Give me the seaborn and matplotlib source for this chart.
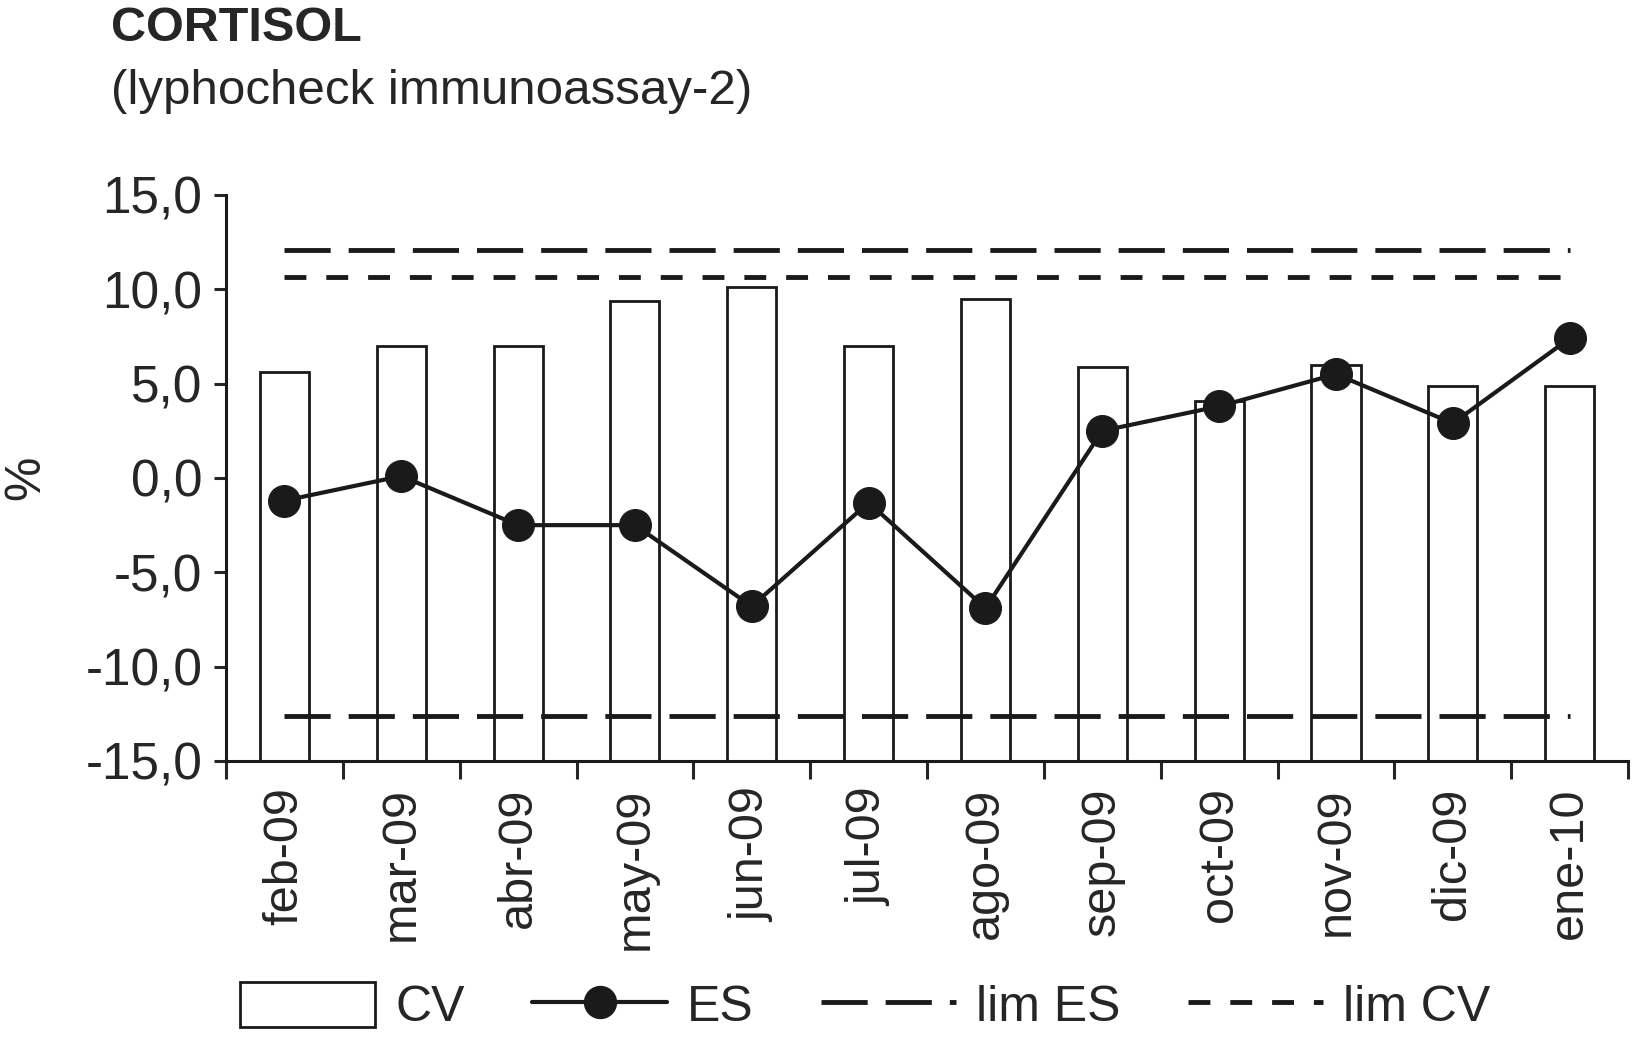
import numpy as np
import pandas as pd
import matplotlib
matplotlib.use("Agg")
import matplotlib.pyplot as plt
import seaborn as sns
from matplotlib.lines import Line2D
from matplotlib.patches import Patch
from matplotlib.ticker import FuncFormatter, FixedLocator

# data
months = ['feb-09', 'mar-09', 'abr-09', 'may-09', 'jun-09', 'jul-09',
          'ago-09', 'sep-09', 'oct-09', 'nov-09', 'dic-09', 'ene-10']
cv = [5.6, 7.0, 7.0, 9.4, 10.1, 7.0, 9.5, 5.9, 4.1, 6.0, 4.9, 4.9]
es = [-1.2, 0.1, -2.5, -2.5, -6.8, -1.3, -6.9, 2.5, 3.8, 5.5, 2.9, 7.4]
lim_es_hi = 12.1
lim_es_lo = -12.6
lim_cv = 10.65
y_min, y_max = -15, 15

sns.set_style("ticks")
plt.rcParams['font.family'] = ['Liberation Sans', 'DejaVu Sans']

df = pd.DataFrame({'month': months, 'cv': cv, 'es': es})
df['pos'] = np.arange(len(df))
# bars are drawn up from the bottom of the axis
df['cv_h'] = df['cv'] - y_min

fig = plt.figure(figsize=(16.33, 10.41), dpi=100)
ax = fig.add_axes([0.1384, 0.269, 0.8586, 0.5437])

sns.barplot(data=df, x='pos', y='cv_h', bottom=y_min, width=0.42,
            color='white', edgecolor='#1a1a1a', linewidth=2.0,
            native_scale=True, ax=ax, zorder=2)

n = len(df)
ax.plot(df['pos'], np.full(n, lim_es_hi), color='#1a1a1a', lw=3.5,
        dashes=(9.5, 3.7), zorder=3)
ax.plot(df['pos'], np.full(n, lim_es_lo), color='#1a1a1a', lw=3.5,
        dashes=(9.5, 3.7), zorder=3)
ax.plot(df['pos'], np.full(n, lim_cv), color='#1a1a1a', lw=3.5,
        dashes=(4.5, 4.1), zorder=3)

sns.lineplot(data=df, x='pos', y='es', color='#1a1a1a', lw=3.0,
             marker='o', markersize=23, markeredgecolor='#1a1a1a',
             ax=ax, zorder=4)

ax.set_xlim(-0.5, n - 0.5)
ax.set_ylim(y_min, y_max)
ax.set_yticks(np.arange(-15, 16, 5))
ax.yaxis.set_major_formatter(FuncFormatter(lambda v, p: f"{v:.1f}".replace('.', ',')))
ax.set_xticks(df['pos'])
ax.set_xticklabels(months, rotation=90)
ax.xaxis.set_minor_locator(FixedLocator(np.arange(-0.5, n, 1.0)))
ax.tick_params(axis='x', which='major', length=0, pad=19, labelsize=35)
ax.tick_params(axis='x', which='minor', length=13, width=2.2, direction='out')
ax.tick_params(axis='y', length=9, width=2.2, pad=8, labelsize=37)
ax.set_xlabel('')
ax.set_ylabel('%', fontsize=36, labelpad=26)

sns.despine(ax=ax, top=True, right=True)
for s in ['left', 'bottom']:
    ax.spines[s].set_linewidth(2.2)
    ax.spines[s].set_color('#1a1a1a')

fig.text(0.068, 0.973, 'CORTISOL', fontsize=35, fontweight='bold', va='center')
fig.text(0.068, 0.912, '(lyphocheck immunoassay-2)', fontsize=35.5, va='center')

handles = [
    Patch(facecolor='white', edgecolor='#1a1a1a', linewidth=2.0),
    Line2D([0], [0], color='#1a1a1a', lw=3.0, marker='o', markersize=23),
    Line2D([0], [0], color='#1a1a1a', lw=3.5, dashes=(9.5, 3.7)),
    Line2D([0], [0], color='#1a1a1a', lw=3.5, dashes=(4.5, 4.1)),
]
fig.legend(handles, ['CV', 'ES', 'lim ES', 'lim CV'], loc='center',
           bbox_to_anchor=(0.53, 0.033), ncol=4, frameon=False, fontsize=36,
           handlelength=2.7, handleheight=1.0, handletextpad=0.4,
           columnspacing=1.35, numpoints=1)

fig.savefig('out.png', dpi=100)
